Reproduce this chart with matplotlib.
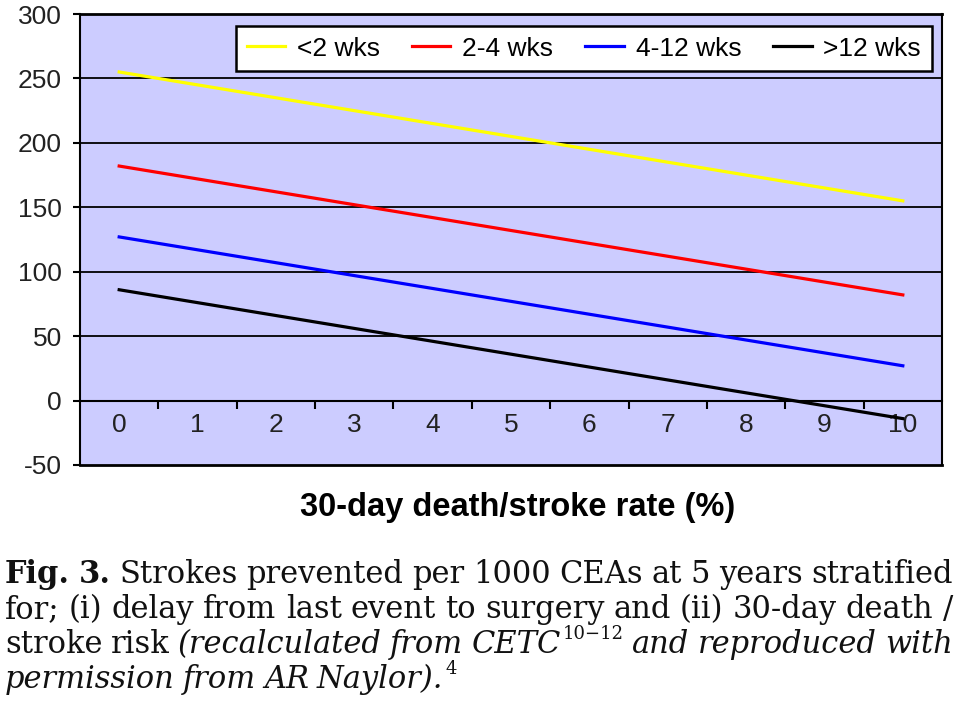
import matplotlib.pyplot as plt

# data
rates = [0, 1, 2, 3, 4, 5, 6, 7, 8, 9, 10]
lt2 = [255, 245, 235, 225, 215, 205, 195, 185, 175, 165, 155]
w2_4 = [182, 172, 162, 152, 142, 132, 122, 112, 102, 92, 82]
w4_12 = [127, 117, 107, 97, 87, 77, 67, 57, 47, 37, 27]
gt12 = [86, 76, 66, 56, 46, 36, 26, 16, 6, -4, -14]
labels = ['<2 wks', '2-4 wks', '4-12 wks', '>12 wks']
colors = ['#ffff00', '#ff0000', '#0000ff', '#000000']

plt.rcParams['font.family'] = ['Liberation Sans', 'DejaVu Sans']
plt.rcParams['axes.unicode_minus'] = False

W, H = 960, 702
fig = plt.figure(figsize=(9.6, 7.02), dpi=100)
ax = fig.add_axes([80 / W, 237 / H, 862 / W, 451 / H])
ax.set_facecolor('#ccccff')

for ys, lab, col in zip([lt2, w2_4, w4_12, gt12], labels, colors):
    ax.plot(rates, ys, color=col, lw=2.3, label=lab, zorder=3)

ax.set_xlim(-0.5, 10.5)
ax.set_ylim(-50, 300)
ax.set_yticks(range(-50, 301, 50))
for y in range(50, 300, 50):
    ax.axhline(y, color='black', lw=1.3, zorder=1)
ax.axhline(-50, color='black', lw=2, clip_on=False, zorder=4)

ax.spines['bottom'].set_position(('data', 0))
for s in ax.spines.values():
    s.set_linewidth(1.5)
ax.spines['top'].set_linewidth(2)

ax.set_xticks(rates)
ax.set_xticks([r + 0.5 for r in rates[:-1]], minor=True)
ax.tick_params(axis='x', which='major', length=0, pad=9, labelsize=19, labelcolor='#222222')
ax.tick_params(axis='x', which='minor', length=6, width=1.5, direction='out')
ax.tick_params(axis='y', length=5, width=1.5, direction='out', pad=8, labelsize=19,
               labelcolor='#222222')

leg = ax.legend(loc='upper right', bbox_to_anchor=(0.988, 0.973), ncol=4, fontsize=19,
                frameon=True, fancybox=False, framealpha=1, edgecolor='black',
                handlelength=1.45, columnspacing=1.22, borderpad=0.4, handletextpad=0.45,
                borderaxespad=0)
leg.get_frame().set_linewidth(1.8)

fig.text(518 / W, 1 - 516 / H, '30-day death/stroke rate (%)', ha='center', va='baseline',
         fontsize=23.5, fontweight='bold')

# caption, justified word by word
serif = ['DejaVu Serif']
base = dict(fontsize=22, family=serif, va='baseline', color='#111111')
rn = fig.canvas.get_renderer()


def width(t):
    return t.get_window_extent(rn).width


def caption_line(words, y, justify=True, x0=5, x1=953):
    items = []
    for word, style, weight, sup in words:
        t = fig.text(0, 1 - y / H, word, style=style, fontweight=weight, **base)
        s = None
        if sup:
            s = fig.text(0, 1 - (y - 14) / H, sup, fontsize=13, family=serif,
                         va='baseline', color='#111111')
        items.append((t, s))
    ws = [width(t) + (width(s) + 2 if s else 0) for t, s in items]
    if justify:
        gap = (x1 - x0 - sum(ws)) / (len(items) - 1)
    else:
        gap = 8
    x = x0
    for (t, s), w in zip(items, ws):
        t.set_x(x / W)
        if s:
            s.set_x((x + width(t) + 2) / W)
        x += w + gap


N, I, B = 'normal', 'italic', 'bold'
caption_line([(w, N, B if i < 2 else N, None) for i, w in enumerate(
    'Fig. 3. Strokes prevented per 1000 CEAs at 5 years stratified'.split())], 583)
caption_line([(w, N, N, None) for w in
              'for; (i) delay from last event to surgery and (ii) 30-day death /'.split()], 618)
caption_line([('stroke', N, N, None), ('risk', N, N, None), ('(recalculated', I, N, None),
              ('from', I, N, None), ('CETC', I, N, '10\u221212'), ('and', I, N, None),
              ('reproduced', I, N, None), ('with', I, N, None)], 653)
caption_line([('permission', I, N, None), ('from', I, N, None), ('AR', I, N, None),
              ('Naylor).', I, N, '4')], 688, justify=False)

fig.savefig('out.png', dpi=100)
